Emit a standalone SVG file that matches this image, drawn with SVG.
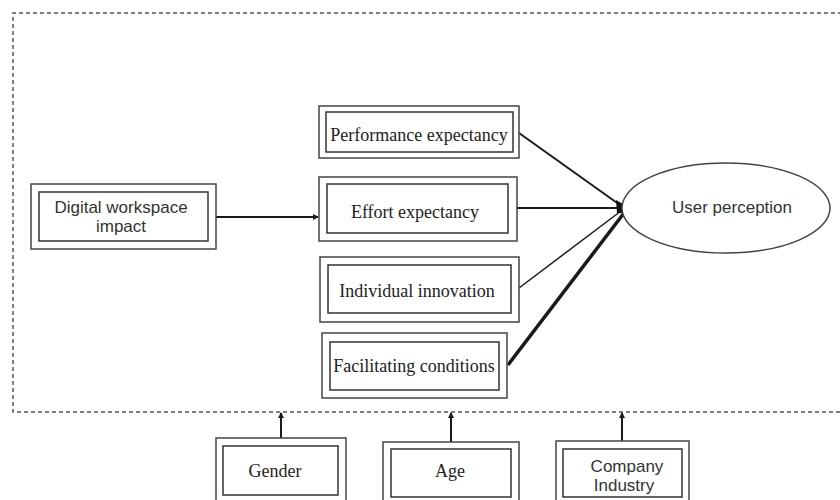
<svg xmlns="http://www.w3.org/2000/svg" width="840" height="500" viewBox="0 0 840 500">
<style>
.o{fill:#fff;stroke:#444;stroke-width:1.5}
.i{fill:none;stroke:#333;stroke-width:1.5}
.tn{font-family:"Liberation Serif","Times New Roman",serif;font-size:18px;fill:#222;text-anchor:middle}
.ar{font-family:"Liberation Sans",Arial,sans-serif;font-size:17px;fill:#333;text-anchor:middle}
.c{stroke:#1a1a1a;fill:none}
</style>
<defs>
<marker id="ah" markerWidth="6" markerHeight="6" refX="5" refY="3" orient="auto" markerUnits="userSpaceOnUse">
<path d="M0,0 L6,3 L0,6 Z" fill="#1a1a1a"/>
</marker>
</defs>
<rect width="840" height="500" fill="#fff"/>
<path id="frame" d="M842 13 H13 V412 H842" fill="none" stroke="#555" stroke-width="1.5" stroke-dasharray="4 3"/>

<g id="connectors">
<line class="c" x1="216" y1="217" x2="318" y2="217" stroke-width="2" marker-end="url(#ah)"/>
<line class="c" x1="519" y1="133" x2="620" y2="205" stroke-width="2"/>
<line class="c" x1="517" y1="208" x2="620" y2="208" stroke-width="2"/>
<line class="c" x1="519" y1="288" x2="621" y2="211" stroke-width="1.5"/>
<line class="c" x1="508" y1="365" x2="624" y2="213" stroke-width="3.5"/>
<path d="M616 200 L623 204 L623 213 L617 213 Z" fill="#111"/>
<line class="c" x1="281" y1="438" x2="281" y2="413" stroke-width="2" marker-end="url(#ah)"/>
<line class="c" x1="451" y1="442" x2="451" y2="413" stroke-width="2" marker-end="url(#ah)"/>
<line class="c" x1="622" y1="441" x2="622" y2="413" stroke-width="2" marker-end="url(#ah)"/>
</g>

<g id="digital">
<rect class="o" x="31" y="184" width="185" height="65"/>
<rect class="i" x="39" y="192" width="169" height="49"/>
<text class="ar" x="121" y="213">Digital workspace</text>
<text class="ar" x="121" y="232">impact</text>
</g>

<g id="performance">
<rect class="o" x="319" y="106" width="200" height="52"/>
<rect class="i" x="326" y="112" width="187" height="40"/>
<text class="tn" x="419" y="141">Performance expectancy</text>
</g>

<g id="effort">
<rect class="o" x="319" y="177" width="198" height="64"/>
<rect class="i" x="327" y="184" width="181" height="49"/>
<text class="tn" x="415" y="218">Effort expectancy</text>
</g>

<g id="individual">
<rect class="o" x="320" y="257" width="199" height="65"/>
<rect class="i" x="328" y="265" width="183" height="48"/>
<text class="tn" x="417" y="297">Individual innovation</text>
</g>

<g id="facilitating">
<rect class="o" x="322" y="333" width="185" height="65"/>
<rect class="i" x="330" y="342" width="169" height="48"/>
<text class="tn" x="414" y="372">Facilitating conditions</text>
</g>

<g id="user">
<ellipse cx="726" cy="208" rx="104" ry="45" fill="#fff" stroke="#444" stroke-width="1.5"/>
<text class="ar" x="732" y="213">User perception</text>
</g>

<g id="gender">
<rect class="o" x="216" y="438" width="130" height="66"/>
<rect class="i" x="223" y="446" width="115" height="49"/>
<text class="tn" x="275" y="477">Gender</text>
</g>

<g id="age">
<rect class="o" x="383" y="442" width="136" height="62"/>
<rect class="i" x="391" y="449" width="120" height="48"/>
<text class="tn" x="450" y="477">Age</text>
</g>

<g id="company">
<rect class="o" x="556" y="441" width="133" height="63"/>
<rect class="i" x="563" y="449" width="119" height="48"/>
<text class="ar" x="627" y="472">Company</text>
<text class="ar" x="624" y="491">Industry</text>
</g>
</svg>
